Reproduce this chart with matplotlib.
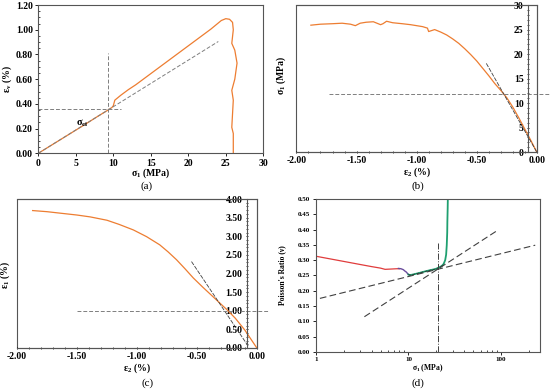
import matplotlib.pyplot as plt
import matplotlib.ticker as mticker
from matplotlib.patches import Rectangle

plt.rcParams['font.family'] = ['Liberation Serif', 'DejaVu Serif']
plt.rcParams['font.weight'] = 'bold'
plt.rcParams['axes.labelweight'] = 'bold'
plt.rcParams['mathtext.default'] = 'regular'
plt.rcParams['axes.unicode_minus'] = False

ORANGE = '#ED7D31'
GREY = '#7F7F7F'
FRAME = '#555555'

# (a) axial stress vs volumetric strain
sig_a = [0, 2, 4, 6, 8, 9.3, 9.8, 10.0, 10.2, 11, 12, 13, 14, 15, 16, 17, 18, 19, 20,
         21, 22, 23, 23.8, 24.4, 25.0, 25.5, 25.9, 26.0, 25.8, 26.2, 26.5, 26.2, 25.8,
         26.0, 25.9, 25.8, 26.0, 26.0]
ev_a = [0, 0.075, 0.150, 0.225, 0.302, 0.350, 0.370, 0.385, 0.430, 0.470, 0.515, 0.555,
        0.600, 0.645, 0.690, 0.735, 0.780, 0.825, 0.870, 0.915, 0.960, 1.005, 1.045,
        1.075, 1.090, 1.085, 1.060, 1.000, 0.890, 0.835, 0.730, 0.600, 0.510, 0.430,
        0.320, 0.210, 0.160, 0.0]
fit_a_x = [0, 24]
fit_a_y = [0, 0.905]
sig_ci = 9.3
ev_ci = 0.36

# (b) axial stress vs lateral strain
eps2_b = [-1.88, -1.80, -1.70, -1.62, -1.55, -1.51, -1.47, -1.42, -1.36, -1.30, -1.28,
          -1.25, -1.20, -1.12, -1.05, -1.00, -0.95, -0.91, -0.90, -0.85, -0.80, -0.75,
          -0.70, -0.65, -0.60, -0.55, -0.50, -0.45, -0.40, -0.35, -0.30, -0.25, -0.20,
          -0.15, -0.10, -0.05, 0.0]
sig_b = [25.9, 26.1, 26.2, 26.3, 26.1, 25.8, 26.3, 26.5, 26.6, 26.0, 26.2, 26.7, 26.4,
         26.2, 26.0, 25.8, 25.6, 25.3, 24.6, 25.0, 24.5, 23.9, 23.1, 22.2, 21.1, 19.9,
         18.6, 17.1, 15.6, 14.0, 12.6, 11.1, 9.2, 7.0, 4.7, 2.4, 0.0]
tan_b_x = [-0.42, 0.0]
tan_b_y = [18.1, 0.0]
sig_cd_b = 11.8

# (c) axial strain vs lateral strain
eps2_c = [-1.87, -1.75, -1.64, -1.50, -1.39, -1.25, -1.15, -1.03, -0.92, -0.81, -0.74,
          -0.67, -0.60, -0.53, -0.45, -0.36, -0.25, -0.18, -0.10, 0.0]
eps1_c = [3.69, 3.66, 3.62, 3.57, 3.52, 3.43, 3.32, 3.17, 2.99, 2.77, 2.58, 2.37, 2.13,
          1.88, 1.63, 1.36, 1.03, 0.80, 0.48, 0.0]
tan_c_x = [-0.545, -0.07]
tan_c_y = [2.32, 0.04]
eps1_ref = 1.0

# (d) Poisson's ratio vs axial stress
red_x = [1, 2, 3, 4, 5, 5.6, 6.5, 7.5, 8.0]
red_y = [0.313, 0.296, 0.286, 0.279, 0.274, 0.270, 0.271, 0.272, 0.272]
purple_x = [7.8, 8.3, 8.8, 9.2, 9.5, 9.8, 10.0]
purple_y = [0.273, 0.272, 0.269, 0.264, 0.261, 0.256, 0.253]
green_x = [10.0, 10.4, 11.5, 13, 15, 17, 19.5, 21, 22.9, 24, 24.9, 25.5, 25.9, 26.2,
           26.3, 26.5, 26.6]
green_y = [0.253, 0.251, 0.254, 0.258, 0.263, 0.267, 0.271, 0.275, 0.281, 0.288, 0.300,
           0.318, 0.349, 0.390, 0.426, 0.470, 0.500]
line1_x = [1.11, 233]
line1_y = [0.175, 0.349]
line2_x = [3.35, 92]
line2_y = [0.115, 0.398]
sig_d = 20.6

fig = plt.figure(figsize=(5.5, 3.91), dpi=100)
axa = fig.add_axes([0.0697, 0.608, 0.409, 0.379])
axb = fig.add_axes([0.539, 0.611, 0.437, 0.376])
axc = fig.add_axes([0.031, 0.110, 0.436, 0.381])
axd = fig.add_axes([0.574, 0.100, 0.408, 0.391])

for ax in (axa, axb, axc, axd):
    for s in ax.spines.values():
        s.set_color(FRAME)
        s.set_linewidth(0.8)

# ---- (a)
axa.plot(sig_a, ev_a, color=ORANGE, lw=0.9)
axa.plot(fit_a_x, fit_a_y, color=GREY, lw=0.7, ls=(0, (4, 2)))
axa.plot([sig_ci, sig_ci], [0, 0.81], color=GREY, lw=0.7, ls=(0, (4, 2)))
axa.plot([0, 11], [ev_ci, ev_ci], color=GREY, lw=0.7, ls=(0, (4, 2)))
axa.text(5.0, 0.245, r'σ$_{ci}$', fontsize=7.5, ha='left', va='center')
axa.set_xlim(0, 30)
axa.set_ylim(0, 1.2)
axa.set_xticks(range(0, 31, 5))
axa.set_yticks([0, 0.2, 0.4, 0.6, 0.8, 1.0, 1.2])
axa.yaxis.set_major_formatter(mticker.FormatStrFormatter('%.2f'))
axa.yaxis.set_minor_locator(mticker.MultipleLocator(0.05))
axa.tick_params(labelsize=7, length=2, width=0.6, pad=2)
axa.tick_params(axis='y', which='minor', direction='in', length=1.5, width=0.5)
axa.set_xlabel(r'σ$_1$ (MPa)', fontsize=7)
axa.set_ylabel(r'ε$_v$ (%)', fontsize=7)
axa.xaxis.set_label_coords(0.5, -0.09)
axa.yaxis.set_label_coords(-0.11, 0.5)

# ---- (b)
axb.plot(eps2_b, sig_b, color=ORANGE, lw=0.9)
axb.plot(tan_b_x, tan_b_y, color='#404040', lw=0.6, ls=(0, (5, 1.5)))
axb.plot([-1.73, 0.12], [sig_cd_b, sig_cd_b], color=GREY, lw=0.7, ls=(0, (4, 2)),
         clip_on=False)
axb.set_xlim(-2, 0)
axb.set_ylim(0, 30)
axb.spines['left'].set_position(('data', -0.075))
axb.add_patch(Rectangle((0, 0), 1, 1, transform=axb.transAxes, fill=False,
                        edgecolor=FRAME, lw=0.8, clip_on=False))
axb.set_xticks([-2, -1.5, -1, -0.5, 0])
axb.xaxis.set_major_formatter(mticker.FormatStrFormatter('%.2f'))
axb.xaxis.set_minor_locator(mticker.MultipleLocator(0.1))
axb.set_yticks(range(0, 31, 5))
axb.yaxis.set_minor_locator(mticker.MultipleLocator(1))
axb.tick_params(labelsize=7, length=2, width=0.6, pad=2, direction='inout')
axb.tick_params(which='minor', length=1.5, width=0.5, direction='inout')
axb.set_xlabel(r'ε$_2$ (%)', fontsize=7)
axb.set_ylabel(r'σ$_1$ (MPa)', fontsize=7)
axb.xaxis.set_label_coords(0.5, -0.09)
axb.yaxis.set_label_coords(-0.036, 0.52)

# ---- (c)
axc.plot(eps2_c, eps1_c, color=ORANGE, lw=0.9)
axc.plot(tan_c_x, tan_c_y, color='#404040', lw=0.6, ls=(0, (5, 1.5)))
axc.plot([-1.5, 0.1], [eps1_ref, eps1_ref], color=GREY, lw=0.7, ls=(0, (4, 2)),
         clip_on=False)
axc.set_xlim(-2, 0)
axc.set_ylim(0, 4)
axc.spines['left'].set_position(('data', -0.083))
axc.add_patch(Rectangle((0, 0), 1, 1, transform=axc.transAxes, fill=False,
                        edgecolor=FRAME, lw=0.8, clip_on=False))
axc.set_xticks([-2, -1.5, -1, -0.5, 0])
axc.xaxis.set_major_formatter(mticker.FormatStrFormatter('%.2f'))
axc.xaxis.set_minor_locator(mticker.MultipleLocator(0.1))
axc.set_yticks([0, 0.5, 1, 1.5, 2, 2.5, 3, 3.5, 4])
axc.yaxis.set_major_formatter(mticker.FormatStrFormatter('%.2f'))
axc.yaxis.set_minor_locator(mticker.MultipleLocator(0.1))
axc.tick_params(labelsize=7, length=2, width=0.6, pad=2, direction='inout')
axc.tick_params(which='minor', length=1.5, width=0.5, direction='inout')
axc.set_xlabel(r'ε$_2$ (%)', fontsize=7)
axc.set_ylabel(r'ε$_1$ (%)', fontsize=7)
axc.xaxis.set_label_coords(0.5, -0.09)
axc.yaxis.set_label_coords(-0.021, 0.49)

# ---- (d)
axd.plot(red_x, red_y, color='#E03C3C', lw=0.9)
axd.plot(purple_x, purple_y, color='#6A4C9C', lw=1.0)
axd.plot(green_x, green_y, color='#1FA070', lw=1.3)
axd.plot(green_x[:10], green_y[:10], color='#202020', lw=0.5, ls=(0, (4, 2)))
axd.plot(line1_x, line1_y, color='#404040', lw=0.8, ls=(0, (6, 3)))
axd.plot(line2_x, line2_y, color='#404040', lw=0.8, ls=(0, (6, 3)))
axd.plot([sig_d, sig_d], [0, 0.355], color='#404040', lw=0.7, ls='-.')
axd.set_xscale('log')
axd.set_xlim(1, 263)
axd.set_ylim(0, 0.5)
axd.set_xticks([1, 10, 100])
axd.xaxis.set_major_formatter(mticker.FuncFormatter(lambda v, p: '%d' % v))
axd.set_yticks([i * 0.05 for i in range(11)])
axd.yaxis.set_major_formatter(mticker.FormatStrFormatter('%.2f'))
axd.tick_params(labelsize=5, length=2, width=0.6, pad=2)
axd.tick_params(axis='x', which='minor', direction='in', length=1.5, width=0.5)
axd.set_xlabel(r'σ$_1$ (MPa)', fontsize=5.5)
axd.set_ylabel("Poisson's Ratio (ν)", fontsize=5.5)
axd.xaxis.set_label_coords(0.5, -0.07)
axd.yaxis.set_label_coords(-0.133, 0.5)

for ax in (axa, axb, axc, axd):
    for lbl in ax.get_xticklabels() + ax.get_yticklabels():
        lbl.set_fontweight('bold')

for x, y, s in [(0.267, 0.524, '(a)'), (0.76, 0.524, '(b)'),
                (0.269, 0.02, '(c)'), (0.76, 0.02, '(d)')]:
    fig.text(x, y, s, fontsize=8, fontweight='normal', ha='center', va='center')

fig.savefig('out.png', dpi=100)
